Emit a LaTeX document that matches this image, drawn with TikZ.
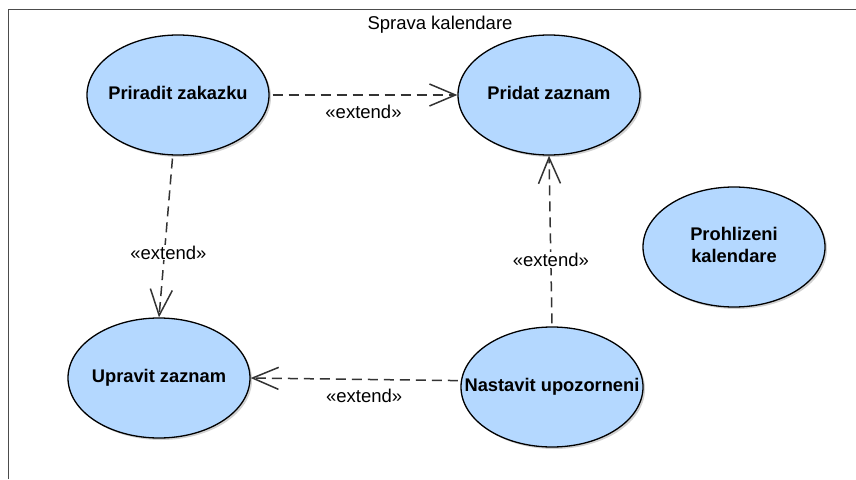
\documentclass[tikz,border=0pt]{standalone}
\usepackage{fontspec}
\setmainfont{Liberation Sans}
\usetikzlibrary{shapes.geometric,arrows.meta,shadows}

\definecolor{ucblue}{RGB}{180,216,255}
\newcommand{\uctext}[1]{\makebox[0pt]{\begin{tabular}{@{}c@{}}#1\end{tabular}}}

\tikzset{
  usecase/.style={ellipse, draw=black, line width=1.3pt, fill=ucblue,
    minimum width=182pt, minimum height=120pt, inner sep=0pt,
    font=\bfseries\fontsize{18.3}{22}\selectfont,
    drop shadow={shadow xshift=2pt, shadow yshift=-2pt, opacity=0.18, fill=black}},
  extend/.style={draw=black!80, line width=1.5pt, dash pattern=on 10pt off 6pt,
    -{Straight Barb[length=26pt,width=22pt]}, shorten <=3pt},
  stereo/.style={font=\fontsize{18.5}{20}\selectfont, inner sep=1pt}
}

\begin{document}
\begin{tikzpicture}[x=1pt,y=-1pt]
        \useasboundingbox (0,0) rectangle (856,479);
        \def \lbl {«extend»}
        
        % system boundary
        \draw[black!70, line width=1pt] (8,479) -- (8,9) -- (856,9);
        \node[font=\fontsize{18.5}{20}\selectfont] at (440,25) (title) {Sprava kalendare};
        
        \node[usecase] at (178,95) (pz) {\uctext{Priradit zakazku}};
        \node[usecase] at (549,95) (pd) {\uctext{Pridat zaznam}};
        \node[usecase] at (734,247) (pk) {\uctext{Prohlizeni\\kalendare}};
        \node[usecase] at (159,378) (ul) {\uctext{Upravit zaznam}};
        \node[usecase] at (552,387) (ns) {\uctext{Nastavit upozorneni}};
        
        \draw[extend] (pz.east) -- (pd.west) node[midway, below=8pt, stereo] {\lbl};
        \draw[extend] (pz.-95) -- (ul.north) node[pos=0.6, xshift=4pt, stereo, fill=white] {\lbl};
        \draw[extend] (ns.north) -- (pd.south) node[pos=0.39, stereo, fill=white] {\lbl};
        \draw[extend] (ns.176) -- (ul.east) node[pos=0.46, below=8pt, stereo] {\lbl};
\end{tikzpicture}
\end{document}
